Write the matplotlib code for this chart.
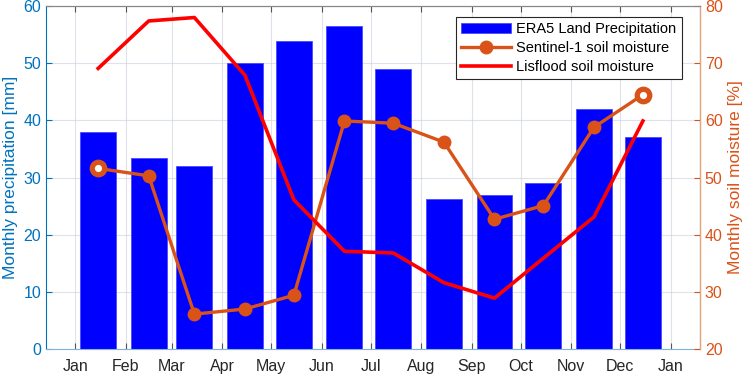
import numpy as np
import matplotlib
matplotlib.use("Agg")
import matplotlib.pyplot as plt
import matplotlib.dates as mdates

plt.rcParams['font.family'] = ['Liberation Sans', 'DejaVu Sans']

months = np.array(['2019-01-15', '2019-02-15', '2019-03-15', '2019-04-15',
                   '2019-05-15', '2019-06-15', '2019-07-15', '2019-08-15',
                   '2019-09-15', '2019-10-15', '2019-11-15', '2019-12-15'],
                  dtype='datetime64[D]')
precip = [38.0, 33.5, 32.0, 50.0, 53.9, 56.6, 49.0, 26.3, 26.9, 29.1, 42.0, 37.1]
sentinel = [51.6, 50.3, 26.1, 27.0, 29.4, 59.9, 59.5, 56.2, 42.7, 45.1, 58.8, 64.5]
lisflood = [69.1, 77.4, 78.0, 67.9, 46.1, 37.1, 36.8, 31.6, 28.9, 35.9, 43.1, 59.9]

c_left = '#0072BD'
c_right = '#D95319'

fig = plt.figure(figsize=(7.5, 3.76), dpi=100)
ax = fig.add_axes([0.0613, 0.0718, 0.872, 0.912])
ax2 = ax.twinx()

b = ax.bar(months, precip, width=22, color='#0000FF', edgecolor='#4a4aff',
           linewidth=0.6, label='ERA5 Land Precipitation', zorder=2)
ax.set_ylim(0, 60)
ax.set_yticks(range(0, 61, 10))
ax.set_xlim(np.datetime64('2018-12-14'), np.datetime64('2020-01-19'))
ax.xaxis.set_major_locator(mdates.MonthLocator())
ax.xaxis.set_major_formatter(mdates.DateFormatter('%b'))
ax.grid(True, color='#c8d0dc', alpha=0.6, linewidth=0.8, zorder=0)
ax.set_axisbelow(True)
ax.set_ylabel('Monthly precipitation [mm]', color=c_left, fontsize=12.5, labelpad=4)

l1, = ax2.plot(months, sentinel, color=c_right, linewidth=2.4, marker='o',
               markersize=9, label='Sentinel-1 soil moisture', zorder=3)
ax2.plot(months[[0, -1]], [sentinel[0], sentinel[-1]], linestyle='none', marker='o',
         markersize=9, markerfacecolor='white', markeredgecolor=c_right,
         markeredgewidth=3.8, zorder=4)
l2, = ax2.plot(months, lisflood, color='#FF0000', linewidth=2.6,
               label='Lisflood soil moisture', zorder=3)
ax2.set_ylim(20, 80)
ax2.set_yticks(range(20, 81, 10))
ax2.set_ylabel('Monthly soil moisture [%]', color=c_right, fontsize=12.5, labelpad=4)

for a in (ax, ax2):
    a.tick_params(direction='in', length=4, labelsize=11.5, width=0.8)
ax.tick_params(axis='y', colors=c_left, labelsize=11.5)
ax2.tick_params(axis='y', colors=c_right, labelsize=11.5)
ax.tick_params(axis='x', colors='#555555', labelcolor='#262626', top=True, pad=7)
ax.spines['left'].set_color(c_left)
ax.spines['bottom'].set_color('#7fb3d9')
ax.spines['top'].set_color('#888888')
ax2.spines['right'].set_color('#f0a070')
ax2.spines['left'].set_visible(False)
ax2.spines['top'].set_color('#888888')
ax2.spines['bottom'].set_visible(False)

leg = ax2.legend([b, l1, l2], [b.get_label(), l1.get_label(), l2.get_label()],
                 loc='upper right', bbox_to_anchor=(0.983, 0.99), fontsize=10.5,
                 fancybox=False, edgecolor='#262626', framealpha=1,
                 handlelength=3.4, borderpad=0.35, labelspacing=0.35,
                 handletextpad=0.4)
leg.get_frame().set_linewidth(0.8)

fig.savefig('out.png', dpi=100)
